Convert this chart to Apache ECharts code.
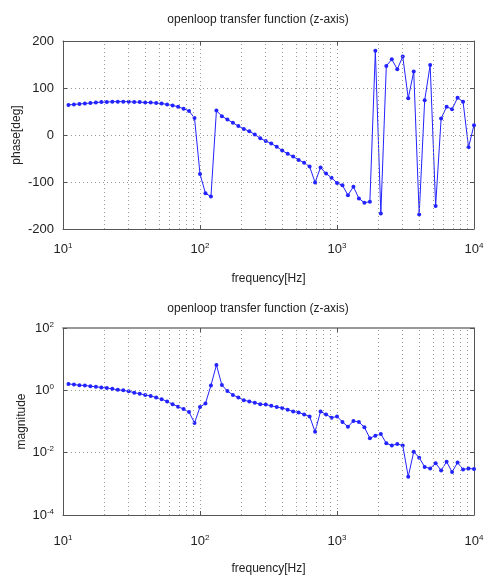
<!DOCTYPE html>
<html><head><meta charset="utf-8">
<script src="https://cdn.jsdelivr.net/npm/echarts@6/dist/echarts.min.js"></script>
<style>html,body{margin:0;padding:0;background:#fff}#c{width:484px;height:578px}</style>
</head><body><div id="c"></div>
<script>
const frequency = [10.96,12.02,13.18,14.45,15.85,17.38,19.05,20.89,22.91,25.12,27.54,30.20,33.11,36.31,39.81,43.65,47.86,52.48,57.54,63.10,69.18,75.86,83.18,91.20,100,
109.6,120.2,131.8,144.5,158.5,173.8,190.5,208.9,229.1,251.2,275.4,302.0,331.1,363.1,398.1,436.5,478.6,524.8,575.4,631.0,691.8,758.6,831.8,912.0,1000,
1096,1202,1318,1445,1585,1738,1905,2089,2291,2512,2754,3020,3311,3631,3981,4365,4786,5248,5754,6310,6918,7586,8318,9120,10000];
const phase = [64,65,66,67,68,69,70,70,71,71,71,71,70,70,69,69,68,67,65,63,60,56,51,36,-83,
-124,-131,52,40,33,26,19,13,8,1,-7,-13,-18,-25,-33,-40,-46,-53,-59,-67,-101,-69,-82,-91,-102,
-107,-128,-110,-135,-144,-142,179,-167,147,161,140,167,78,135,-169,74,149,-151,35,60,55,79,71,-26,21];
const magnitude = [1.61,1.53,1.46,1.43,1.36,1.30,1.24,1.18,1.12,1.04,1.00,0.93,0.84,0.78,0.71,0.66,0.59,0.52,0.44,0.36,0.30,0.25,0.20,0.090,0.29,
0.38,1.43,6.5,1.47,0.95,0.71,0.59,0.48,0.44,0.40,0.36,0.35,0.32,0.29,0.27,0.24,0.21,0.195,0.169,0.146,0.047,0.21,0.169,0.133,0.145,
0.097,0.068,0.104,0.097,0.065,0.029,0.035,0.040,0.020,0.017,0.019,0.017,0.0017,0.0107,0.0069,0.0035,0.0031,0.0046,0.0027,0.0051,0.0024,0.0048,0.0029,0.0031,0.0030];
const minorGridFreqs = [20,30,40,50,60,70,80,90,200,300,400,500,600,700,800,900,2000,3000,4000,5000,6000,7000,8000,9000];
const phaseTicks = [-200,-100,0,100,200];
const titleText = 'openloop transfer function (z-axis)';
const xName = 'frequency[Hz]';
const yNameTop = 'phase[deg]';
const yNameBottom = 'magnitude';

const FONT = 'Liberation Sans';
const TXT = '#222';
const FRAME = '#555';
const GRID = '#999';
const BLUE = '#2323ff';

function expLabel(v){ return '10{s|' + Math.round(Math.log10(v)) + '}'; }
const richSup = { s: { fontSize: 8, fontFamily: FONT, color: TXT, verticalAlign: 'top', padding: [0,0,7,0] } };

function xAxisMain(gi, labelMargin, nameGap){
  return {
    type: 'log', logBase: 10, gridIndex: gi, min: 10, max: 10000, position: 'bottom',
    name: xName, nameLocation: 'middle', nameGap: nameGap, nameMoveOverlap: false,
    nameTextStyle: { fontFamily: FONT, fontSize: 12, color: TXT },
    axisLine: { show: true, onZero: false, lineStyle: { color: FRAME, width: 1 } },
    axisTick: { show: true, inside: true, length: 4, lineStyle: { color: FRAME } },
    axisLabel: { formatter: expLabel, fontFamily: FONT, fontSize: 13, color: TXT, margin: labelMargin, rich: richSup },
    splitLine: { show: true, lineStyle: { color: GRID, type: [1,3], width: 1 } },
    minorTick: { show: false }
  };
}
function xAxisTop(gi, w){
  return {
    type: 'log', logBase: 10, gridIndex: gi, min: 10, max: 10000, position: 'top',
    axisLine: { show: true, onZero: false, lineStyle: { color: gi === 1 ? '#999' : FRAME, width: w } },
    axisTick: { show: true, inside: true, length: 4, lineStyle: { color: FRAME } },
    axisLabel: { show: false }, splitLine: { show: false }
  };
}
function minorLines(){
  return {
    silent: true, symbol: ['none','none'], animation: false,
    label: { show: false },
    lineStyle: { color: GRID, type: [1,3], width: 1 },
    emphasis: { disabled: true },
    data: minorGridFreqs.map(f => ({ xAxis: f }))
  };
}

const chart = echarts.init(document.getElementById('c'), null, { renderer: 'canvas' });
chart.setOption({
  animation: false,
  backgroundColor: '#fff',
  title: [
    { text: titleText, left: 253, top: 9, textAlign: 'center', textStyle: { fontFamily: FONT, fontSize: 12, fontWeight: 'normal', color: TXT } },
    { text: titleText, left: 253, top: 298, textAlign: 'center', textStyle: { fontFamily: FONT, fontSize: 12, fontWeight: 'normal', color: TXT } }
  ],
  grid: [
    { left: 63, right: 10, top: 41, height: 188, containLabel: false, outerBoundsMode: 'none' },
    { left: 63, right: 10, top: 328, height: 187, containLabel: false, outerBoundsMode: 'none' }
  ],
  xAxis: [ xAxisMain(0, 13, 44), xAxisTop(0, 1), xAxisMain(1, 19, 48), xAxisTop(1, 2) ],
  yAxis: [
    { type: 'value', gridIndex: 0, min: phaseTicks[0], max: phaseTicks[phaseTicks.length-1], interval: 100,
      name: yNameTop, nameLocation: 'middle', nameGap: 40, nameMoveOverlap: false,
      nameTextStyle: { fontFamily: FONT, fontSize: 12, color: TXT },
      axisLine: { show: true, onZero: false, lineStyle: { color: FRAME } },
      axisTick: { show: true, inside: true, length: 4, lineStyle: { color: FRAME } },
      axisLabel: { fontFamily: FONT, fontSize: 13, color: TXT, margin: 9 },
      splitLine: { show: true, lineStyle: { color: GRID, type: [1,3], width: 1 } } },
    { type: 'value', gridIndex: 0, position: 'right', min: -200, max: 200, interval: 100,
      axisLine: { show: true, onZero: false, lineStyle: { color: FRAME } },
      axisTick: { show: true, inside: true, length: 4, lineStyle: { color: FRAME } },
      axisLabel: { show: false }, splitLine: { show: false } },
    { type: 'log', logBase: 10, gridIndex: 1, min: 1e-4, max: 1e2, interval: 2,
      name: yNameBottom, nameLocation: 'middle', nameGap: 35, nameMoveOverlap: false,
      nameTextStyle: { fontFamily: FONT, fontSize: 12, color: TXT },
      axisLine: { show: true, onZero: false, lineStyle: { color: FRAME } },
      axisTick: { show: true, inside: true, length: 4, lineStyle: { color: FRAME } },
      axisLabel: { formatter: expLabel, fontFamily: FONT, fontSize: 13, color: TXT, margin: 9, rich: richSup },
      splitLine: { show: true, lineStyle: { color: GRID, type: [1,3], width: 1 } } },
    { type: 'log', logBase: 10, gridIndex: 1, position: 'right', min: 1e-4, max: 1e2, interval: 2,
      axisLine: { show: true, onZero: false, lineStyle: { color: FRAME } },
      axisTick: { show: true, inside: true, length: 4, lineStyle: { color: FRAME } },
      axisLabel: { show: false }, splitLine: { show: false } }
  ],
  series: [
    { type: 'line', xAxisIndex: 0, yAxisIndex: 0, data: frequency.map((f,i) => [f, phase[i]]),
      symbol: 'circle', symbolSize: 4, showSymbol: true,
      lineStyle: { color: BLUE, width: 1 }, itemStyle: { color: BLUE },
      markLine: minorLines() },
    { type: 'line', xAxisIndex: 2, yAxisIndex: 2, data: frequency.map((f,i) => [f, magnitude[i]]),
      symbol: 'circle', symbolSize: 4, showSymbol: true,
      lineStyle: { color: BLUE, width: 1 }, itemStyle: { color: BLUE },
      markLine: minorLines() }
  ]
});
</script>
</body></html>
